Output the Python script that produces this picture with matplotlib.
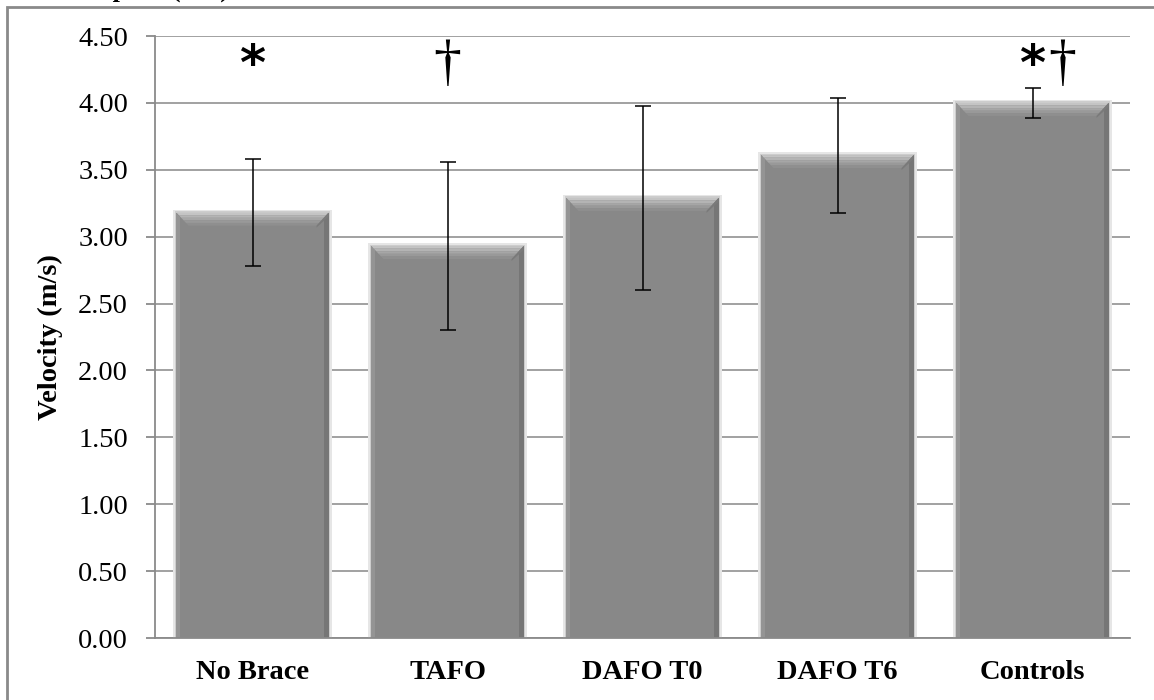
import matplotlib
matplotlib.use("Agg")
import matplotlib.pyplot as plt
from matplotlib.patches import Polygon, Rectangle

categories = ["No Brace", "TAFO", "DAFO T0", "DAFO T6", "Controls"]
velocity = [3.18, 2.93, 3.29, 3.61, 4.00]
sd = [0.40, 0.63, 0.69, 0.43, 0.11]
yticks = [0.0, 0.5, 1.0, 1.5, 2.0, 2.5, 3.0, 3.5, 4.0, 4.5]
# significance markers: (category index, offset, symbol)
marks = [(0, 0.0, "*"), (1, 0.0, "\u2020"), (4, 0.0, "*"), (4, 0.15, "\u2020")]

serif = ["Liberation Serif", "DejaVu Serif"]

fig = plt.figure(figsize=(11.54, 7), dpi=100)
ax = fig.add_axes([155 / 1154, 1 - 638 / 700, 975 / 1154, 602 / 700])

# outer frame that runs off the right and bottom edge
fig.patches.append(Rectangle((7 / 1154, -0.1), 1.2, 1 - 7 / 700 + 0.1,
                             transform=fig.transFigure, fill=False,
                             edgecolor="#8a8a8a", linewidth=2))
# cropped title above the frame (only its lower part shows)
fig.text(229 / 1154, 1 + 3 / 700, "Speed (m/s)", ha="right", va="baseline",
         fontsize=19, fontweight="bold", family=serif)

width = 0.78
px_x = 1 / 195      # one pixel in data units along x
px_y = 1 / 133.8    # one pixel in data units along y

# soft shadow around bars
for i, v in enumerate(velocity):
    for m, c in [(3, "#e6e6e6"), (1.5, "#cdcdcd")]:
        ax.add_patch(Rectangle((i - width / 2 - m * px_x, 0), width + 2 * m * px_x,
                               v + m * px_y, facecolor=c, edgecolor="none", zorder=1.5))

bars = ax.bar(range(len(categories)), velocity, width=width, color="#888888",
              edgecolor="none", zorder=2)

# bevel effect on each bar
dx = 12 * px_x
dy = 13 * px_y
top_shades = ["#c4c4c4", "#b4b4b4", "#a6a6a6", "#999999", "#8f8f8f"]
for b in bars:
    x0, x1 = b.get_x(), b.get_x() + b.get_width()
    top = b.get_height()
    # right and left sides
    ax.add_patch(Polygon([(x1, top), (x1, 0), (x1 - 5 * px_x, 0), (x1 - 5 * px_x, top - 5 * px_y)],
                         closed=True, facecolor="#767676", edgecolor="none", zorder=3))
    ax.add_patch(Polygon([(x0, top), (x0, 0), (x0 + 4 * px_x, 0), (x0 + 4 * px_x, top - 4 * px_y)],
                         closed=True, facecolor="#949494", edgecolor="none", zorder=3))
    n = len(top_shades)
    for k, c in enumerate(top_shades):
        f0 = k / n
        f1 = (k + 1) / n
        ax.add_patch(Polygon([(x0 + f0 * dx, top - f0 * dy), (x1 - f0 * dx, top - f0 * dy),
                              (x1 - f1 * dx, top - f1 * dy), (x0 + f1 * dx, top - f1 * dy)],
                             closed=True, facecolor=c, edgecolor="none", zorder=3))
    # darker right corner of the bevel
    ax.add_patch(Polygon([(x1, top), (x1 - dx, top - dy), (x1 - dx, top - dy - 2 * px_y), (x1, top - 4 * px_y)],
                         closed=True, facecolor="#7a7a7a", edgecolor="none", zorder=3))

ax.errorbar(range(len(categories)), velocity, yerr=sd, fmt="none", ecolor="black",
            elinewidth=1.1, capsize=6, capthick=1.1, zorder=4)

for i, off, sym in marks:
    if sym == "*":
        ax.text(i + off, 4.17, sym, ha="center", va="baseline", fontsize=36,
                fontweight="bold", family=["DejaVu Sans"], zorder=5)
    else:
        ax.text(i + off, 4.18, sym, ha="center", va="baseline", fontsize=40,
                family=serif, zorder=5)

ax.set_xlim(-0.5, 4.5)
ax.set_ylim(0, 4.5)
ax.set_yticks(yticks)
ax.set_yticklabels([f"{v:.2f}" for v in yticks], family=serif, fontsize=20.5)
ax.set_xticks(range(len(categories)))
ax.set_xticklabels(categories, family=serif, fontsize=20.5, fontweight="bold")
ax.tick_params(axis="x", length=0, pad=16)
ax.tick_params(axis="y", length=6.5, color="#8a8a8a", width=1.3, pad=13)
ax.set_ylabel("Velocity (m/s)", family=serif, fontsize=20.5, fontweight="bold", labelpad=11)

ax.yaxis.grid(True, color="#9a9a9a", linewidth=1.3, zorder=0)
ax.set_axisbelow(True)
for s in ["top", "right"]:
    ax.spines[s].set_visible(False)
for s in ["left", "bottom"]:
    ax.spines[s].set_color("#8a8a8a")
    ax.spines[s].set_linewidth(1.3)
ax.spines["bottom"].set_zorder(3.5)

fig.savefig("out.png", dpi=100)
